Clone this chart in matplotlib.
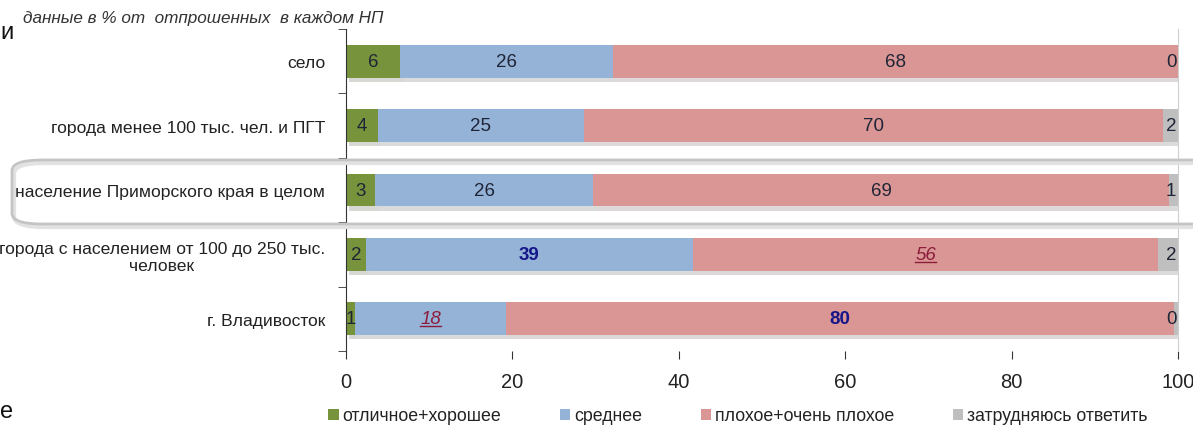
import matplotlib

matplotlib.use("Agg")
import matplotlib.pyplot as plt
import matplotlib.patheffects as pe
from matplotlib.patches import FancyBboxPatch, Patch
from matplotlib.lines import Line2D
import numpy as np

plt.rcParams["font.family"] = ["Liberation Sans", "DejaVu Sans"]

categories = [
    "село",
    "города менее 100 тыс. чел. и ПГТ",
    "население Приморского края в целом",
    "города с населением от 100 до 250 тыс.\nчеловек",
    "г. Владивосток",
]
series_names = ["отличное+хорошее", "среднее", "плохое+очень плохое", "затрудняюсь ответить"]

# shares as drawn (percent)
good = [6.5, 3.8, 3.5, 2.4, 1.1]
average = [25.6, 24.8, 26.2, 39.3, 18.1]
bad = [67.9, 69.6, 69.2, 55.9, 80.3]
hard = [0.0, 1.8, 1.1, 2.4, 0.5]

# printed labels
good_lbl = ["6", "4", "3", "2", "1"]
average_lbl = ["26", "25", "26", "39", "18"]
bad_lbl = ["68", "70", "69", "56", "80"]
hard_lbl = ["0", "2", "1", "2", "0"]

colors = ["#77933C", "#95B3D7", "#D99694", "#BFBFBF"]
plain = dict(color="#1f2436")
bold_blue = dict(color="#16168a", fontweight="bold")
red_under = dict(color="#8c1c3c", style="italic", underline=True)
styles = {
    (3, 1): bold_blue,
    (4, 2): bold_blue,
    (4, 1): red_under,
    (3, 2): red_under,
}

fig = plt.figure(figsize=(11.93, 4.27), dpi=100)
ax = fig.add_axes([346 / 1193, 1 - 352 / 427, (1178 - 346) / 1193, 322 / 427])
ax.patch.set_alpha(0)

# highlight box behind the "в целом" row
for dx, dy, ec, lw in [(2, -3, "#e2e2e2", 3.0), (0, 0, "#c4c4c4", 2.0)]:
    box = FancyBboxPatch(
        ((12 + dx) / 1193, 1 - (225 - dy) / 427), 1.2, 64 / 427,
        boxstyle="round,pad=0,rounding_size=0.025",
        transform=fig.transFigure, facecolor="none", edgecolor=ec,
        linewidth=lw, zorder=0,
    )
    fig.patches.append(box)

y = np.arange(len(categories))
data = [good, average, bad, hard]
labels = [good_lbl, average_lbl, bad_lbl, hard_lbl]
left = np.zeros(len(categories))
text_items = []
for s, (vals, lbls) in enumerate(zip(data, labels)):
    vals = np.array(vals)
    bars = ax.barh(y, vals, left=left, height=0.51, color=colors[s], zorder=2)
    for b in bars:
        b.set_path_effects([pe.SimplePatchShadow(offset=(2, -3), alpha=0.18), pe.Normal()])
    for i in range(len(categories)):
        st = dict(plain)
        st.update(styles.get((i, s), {}))
        underline = st.pop("underline", False)
        if s == 3:
            xpos = 100 - 0.2
            ha = "right"
        else:
            xpos = left[i] + vals[i] / 2
            ha = "center"
        t = ax.text(xpos, y[i], lbls[i], ha=ha, va="center", fontsize=13.5, zorder=4, **st)
        if underline:
            text_items.append(t)
    left = left + vals

ax.set_xlim(0, 100)
ax.set_ylim(4.5, -0.5)
ax.set_yticks(y)
ax.set_yticklabels(categories, fontsize=12.6, color="#222222", multialignment="center")
ax.set_yticks(np.arange(-0.5, 5.0, 1.0), minor=True)
ax.tick_params(axis="y", which="major", length=0, pad=15)
ax.tick_params(axis="y", which="minor", length=6, direction="out", color="#333333")
ax.set_xticks([0, 20, 40, 60, 80, 100])
ax.tick_params(axis="x", length=6, direction="out", color="#333333",
               labelsize=14.5, pad=9, labelcolor="#222222")
for side in ["top", "bottom"]:
    ax.spines[side].set_visible(False)
ax.spines["left"].set_color("#333333")
ax.spines["right"].set_color("#cfcfcf")

handles = [Patch(facecolor=c, edgecolor="none") for c in colors]
ax.legend(
    handles, series_names,
    loc="center left", bbox_to_anchor=(-18 / 832, -65 / 322), ncol=4, frameon=False,
    fontsize=12.8, handlelength=0.6, handleheight=0.6, handletextpad=0.2,
    columnspacing=3.3, labelcolor="#222222", borderaxespad=0, borderpad=0,
)

fig.text(23 / 1193, 1 - 19 / 427, "данные в % от  отпрошенных  в каждом НП",
         fontsize=12.3, style="italic", color="#333333", va="center", ha="left")
fig.text(0.0, 1 - 33 / 427, "и", fontsize=17, color="#111111", va="center", ha="left")
fig.text(0.0, 1 - 412 / 427, "е", fontsize=17, color="#111111", va="center", ha="left")

# underline the italic red labels
fig.canvas.draw()
renderer = fig.canvas.get_renderer()
for t in text_items:
    bb = t.get_window_extent(renderer)
    yb = bb.y0 + 1
    fig.add_artist(Line2D([bb.x0 / fig.bbox.width, bb.x1 / fig.bbox.width],
                          [yb / fig.bbox.height, yb / fig.bbox.height],
                          transform=fig.transFigure, color="#8c1c3c", linewidth=1.0, zorder=5))

fig.savefig("out.png", dpi=100)
